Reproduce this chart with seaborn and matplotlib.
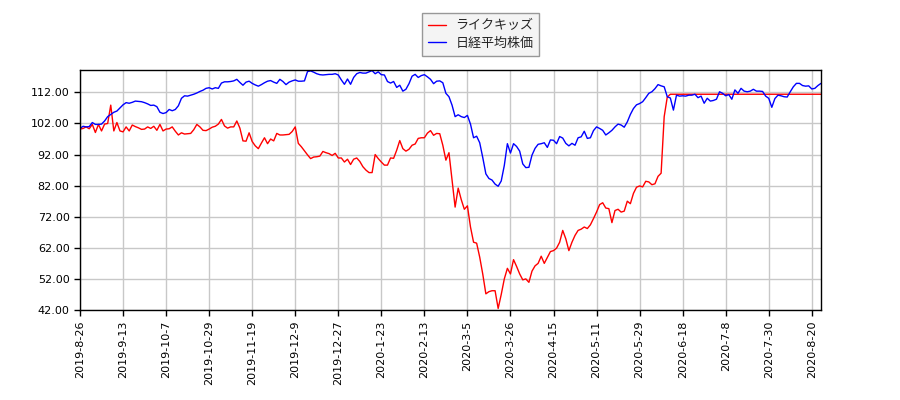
import matplotlib
matplotlib.use("Agg")
import matplotlib.pyplot as plt
from matplotlib.font_manager import FontProperties
import seaborn as sns
import pandas as pd

series_names = ["ライクキッズ", "日経平均株価"]

tick_labels = ["2019-8-26", "2019-9-13", "2019-10-7", "2019-10-29", "2019-11-19",
               "2019-12-9", "2019-12-27", "2020-1-23", "2020-2-13", "2020-3-5",
               "2020-3-26", "2020-4-15", "2020-5-11", "2020-5-29", "2020-6-18",
               "2020-7-8", "2020-7-30", "2020-8-20"]

likekids = [
    100.2, 100.4, 100.9, 100.3, 101.7, 99.1, 101.7, 99.6, 101.8, 102.0,
    107.9, 99.6, 102.3, 99.6, 99.3, 100.9, 99.6, 101.5, 101.0, 100.6,
    100.1, 100.2, 100.9, 100.4, 101.1, 99.8, 101.7, 99.6, 100.2, 100.3,
    100.9, 99.5, 98.3, 99.0, 98.6, 98.7, 98.8, 100.0, 101.7, 100.9,
    99.8, 99.7, 100.2, 100.8, 101.1, 101.8, 103.3, 101.2, 100.5, 100.9,
    100.9, 102.8, 100.5, 96.4, 96.3, 99.0, 96.2, 94.8, 93.9, 95.7,
    97.4, 95.5, 97.0, 96.4, 98.8, 98.3, 98.3, 98.4, 98.5, 99.4,
    100.9, 95.6, 94.5, 93.2, 91.9, 90.7, 91.2, 91.3, 91.5, 93.0,
    92.6, 92.3, 91.7, 92.4, 90.9, 90.9, 89.6, 90.5, 88.8, 90.5,
    90.9, 89.8, 88.1, 87.0, 86.2, 86.2, 92.0, 90.7, 89.6, 88.6,
    88.6, 90.9, 90.8, 93.4, 96.5, 93.9, 93.1, 93.7, 95.0, 95.4,
    97.2, 97.4, 97.4, 98.9, 99.7, 98.2, 98.8, 98.7, 95.0, 90.2,
    92.6, 84.0, 75.1, 81.2, 77.5, 74.4, 75.5, 68.7, 63.8, 63.5,
    59.0, 53.5, 47.2, 47.9, 48.2, 48.2, 42.5, 47.0, 52.0, 55.4,
    53.6, 58.2, 56.0, 53.6, 51.7, 52.0, 50.9, 54.5, 56.2, 57.0,
    59.3, 57.0, 58.9, 60.8, 61.1, 61.9, 63.8, 67.6, 64.9, 61.1,
    63.8, 66.0, 67.6, 68.0, 68.7, 68.2, 69.4, 71.4, 73.5, 75.9,
    76.5, 74.8, 74.6, 70.1, 74.0, 74.4, 73.5, 73.8, 77.0, 76.2,
    79.5, 81.5, 81.9, 81.6, 83.4, 83.2, 82.3, 82.6, 85.0, 86.0,
    104.2, 110.5, 111.4, 111.4, 111.4, 111.4, 111.4, 111.4, 111.4, 111.4,
    111.4, 111.4, 111.4, 111.4, 111.4, 111.4, 111.4, 111.4, 111.4, 111.4,
    111.4, 111.4, 111.4, 111.4, 111.4, 111.4, 111.4, 111.4, 111.4, 111.4,
    111.4, 111.4, 111.4, 111.4, 111.4, 111.4, 111.4, 111.4, 111.4, 111.4,
    111.4, 111.4, 111.4, 111.4, 111.4, 111.4, 111.4, 111.4, 111.4, 111.4,
    111.4, 111.4,
]

nikkei = [
    100.4, 101.1, 100.9, 101.0, 102.3, 101.7, 101.7, 101.8, 102.8, 104.2,
    104.9, 105.6, 106.0, 107.0, 108.0, 108.7, 108.5, 108.8, 109.2, 109.1,
    109.0, 108.7, 108.3, 107.8, 107.9, 107.4, 105.6, 105.2, 105.5, 106.5,
    106.1, 106.5, 107.7, 110.1, 110.9, 110.8, 111.1, 111.4, 111.8, 112.3,
    112.7, 113.3, 113.5, 113.1, 113.5, 113.3, 115.0, 115.4, 115.4, 115.5,
    115.7, 116.2, 115.2, 114.3, 115.3, 115.6, 114.9, 114.4, 114.0, 114.5,
    115.1, 115.6, 115.8, 115.3, 114.9, 116.2, 115.5, 114.5, 115.3, 115.7,
    116.0, 115.6, 115.6, 115.7, 118.7, 118.9, 118.5, 118.0, 117.7, 117.6,
    117.7, 117.8, 117.8, 118.0, 117.6, 116.0, 114.6, 116.3, 114.6, 116.8,
    118.0, 118.4, 118.2, 118.2, 118.6, 119.0, 118.0, 118.6, 117.7, 117.6,
    115.5, 115.0, 115.5, 113.6, 114.3, 112.4, 113.0, 114.8, 117.2, 117.8,
    116.8, 117.4, 117.7, 117.0, 116.2, 114.8, 115.6, 115.7, 115.1, 111.7,
    110.6, 107.9, 104.2, 104.8, 104.2, 103.9, 104.6, 101.8, 97.4, 97.9,
    95.8, 91.0, 85.8, 84.3, 83.8, 82.5, 81.8, 83.5, 88.5, 95.5,
    92.5, 95.5, 94.6, 93.1, 89.0, 87.8, 87.9, 91.8, 94.0, 95.3,
    95.5, 95.8, 94.3, 96.7, 96.6, 95.5, 97.8, 97.3, 95.6, 94.8,
    95.6, 95.0, 97.4, 97.7, 99.5, 97.2, 97.4, 99.7, 100.9, 100.4,
    99.8, 98.3, 99.0, 99.8, 100.9, 101.8, 101.5, 100.8, 102.5, 104.9,
    106.8, 108.0, 108.4, 109.0, 110.3, 111.7, 112.2, 113.2, 114.5, 114.1,
    113.8, 110.6, 110.2, 106.3, 111.1, 110.8, 110.9, 110.8, 111.1, 111.1,
    111.4, 110.3, 110.8, 108.5, 110.1, 109.2, 109.4, 109.8, 112.2, 111.7,
    110.9, 111.3, 109.8, 112.8, 111.7, 113.3, 112.4, 112.2, 112.4, 113.0,
    112.4, 112.4, 112.3, 110.8, 110.1, 107.2, 110.0, 111.1, 110.9, 110.6,
    110.5, 112.2, 113.8, 114.9, 114.9, 114.2, 114.0, 114.1, 113.1, 113.3,
    114.2, 114.9,
]

y_ticks = [42, 52, 62, 72, 82, 92, 102, 112]
tick_step = 14

n = len(nikkei)
df = pd.DataFrame({
    "day": list(range(n)) * 2,
    "value": likekids + nikkei,
    "series": [series_names[0]] * n + [series_names[1]] * n,
})

sns.set_style("white")
fig = plt.figure(figsize=(9, 4), dpi=100)
ax = fig.add_axes([80 / 900, 1 - 310 / 400, (821 - 80) / 900, 240 / 400])

sns.lineplot(data=df, x="day", y="value", hue="series",
             palette={series_names[0]: "red", series_names[1]: "blue"},
             linewidth=1.0, ax=ax, legend=True)

ax.set_xlim(0, n - 1)
ax.set_ylim(42, 119.2)
ax.set_yticks(y_ticks)
ax.set_yticklabels([f"{v:.2f}" for v in y_ticks], fontsize=8)
xt = [i * tick_step for i in range(len(tick_labels))]
ax.set_xticks(xt)
ax.set_xticklabels(tick_labels, rotation=90, fontsize=8)
ax.grid(True, color="#c8c8c8", linewidth=1.0)
ax.set_axisbelow(True)
ax.set_xlabel("")
ax.set_ylabel("")
for s in ax.spines.values():
    s.set_color("black")
    s.set_linewidth(1.0)
ax.tick_params(axis="both", direction="out", length=4, width=1, color="black",
               labelcolor="black", bottom=True, left=True)

handles, labels = ax.get_legend_handles_labels()
leg = ax.legend(handles, labels, loc="lower center", bbox_to_anchor=(0.541, 1.032),
                prop=FontProperties(family=["Noto Sans CJK JP", "DejaVu Sans"], size=9.4),
                frameon=True, fancybox=False, edgecolor="#808080",
                handlelength=1.4, handletextpad=0.7, borderpad=0.45,
                labelspacing=0.35)
leg.get_frame().set_linewidth(1.0)
leg.get_frame().set_facecolor("#f2f2f2")

fig.savefig("out.png", dpi=100)
